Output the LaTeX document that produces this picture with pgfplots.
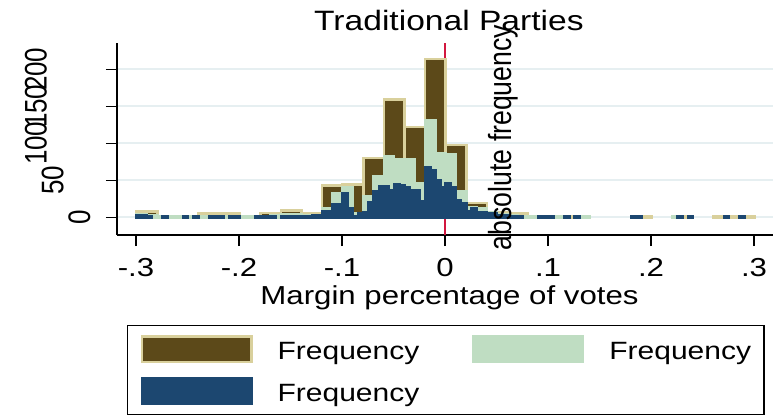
\documentclass[border=0pt]{standalone}
\usepackage{fontspec}
\setmainfont[FakeStretch=1.2]{Liberation Sans}
\newfontfamily\rotfont[FakeStretch=0.833]{Liberation Sans}
\usepackage{pgfplots}
\pgfplotsset{compat=1.18}

\definecolor{barbrown}{HTML}{5C4919}
\definecolor{barkhaki}{HTML}{D9D09C}
\definecolor{bargreen}{HTML}{BFDDC2}
\definecolor{barblue}{HTML}{1C4770}
\definecolor{cutred}{HTML}{D2173F}
\definecolor{gridc}{HTML}{E6EFF1}

\begin{document}
\begin{tikzpicture}
\useasboundingbox (-117bp,-182bp) rectangle (656bp,235bp);
\begin{axis}[
  at={(0,0)}, anchor=south west,
  scale only axis, width=656bp, height=192bp,
  xmin=-0.3184, xmax=0.3184, ymin=-23.9, ymax=235.5,
  axis lines*=left,
  axis line style={black, line width=1.3bp},
  tick style={black, line width=1.3bp},
  major tick length=11bp, tick align=outside,
  xtick={-0.3,-0.2,-0.1,0,0.1,0.2,0.3},
  xticklabels={-.3,-.2,-.1,0,.1,.2,.3},
  xticklabel style={font=\fontsize{26bp}{28bp}\selectfont, anchor=base, yshift=-30.7bp},
  ytick={0,50,100,150,200}, yticklabels={},
  ymajorgrids, grid style={gridc, line width=1.8bp},
  title={Traditional Parties},
  title style={at={(0.506,1)}, anchor=base, yshift=6.3bp, font=\fontsize{28bp}{30bp}\selectfont},
  xlabel={Margin percentage of votes},
  xlabel style={at={(0.5069,0)}, anchor=base, yshift=-69.5bp, font=\fontsize{26bp}{28bp}\selectfont},
  legend columns=2,
  legend style={at={(0,0)}, anchor=north west, xshift=10bp, yshift=-90bp,
    draw=black, line width=1.2bp, inner xsep=13bp, inner ysep=9.5bp, row sep=14bp,
    font=\fontsize{25bp}{27bp}\selectfont, nodes={inner sep=0pt, anchor=base west},
    /tikz/every odd column/.append style={column sep=25bp},
    /tikz/every even column/.append style={column sep=53bp}},
]
% cutoff at zero margin
\addplot[cutred, line width=2bp, forget plot] coordinates {(0,-23.9) (0,235.5)};

% bins of width 0.02
\addplot[ybar, bar width=0.02, bar shift=0pt, fill=barbrown, draw=barkhaki, line width=2.5bp,
  legend image code/.code={\draw[fill=barbrown, draw=barkhaki, line width=2.5bp] (1.25bp,-2.75bp) rectangle (110.75bp,22.75bp);}]
coordinates {
(-0.2893,8) (-0.2693,2) (-0.2493,1) (-0.2293,5) (-0.2093,5) (-0.1893,2)
(-0.1693,6) (-0.1493,9) (-0.1293,6) (-0.1093,43) (-0.0893,44) (-0.0693,80)
(-0.0493,159) (-0.0293,122) (-0.0093,214) (0.0107,98) (0.0307,19) (0.0507,7)
(0.0707,5) (0.0907,2) (0.1107,1) (0.1307,1) (0.1907,1) (0.2307,1) (0.2707,1) (0.2907,1)
};
\addlegendentry{Frequency}

% bins of width 0.01
\addplot[ybar, bar width=0.01, bar shift=0pt, fill=bargreen, draw=bargreen, line width=2.5bp,
  legend image code/.code={\draw[fill=bargreen, draw=bargreen, line width=2.5bp] (1.25bp,-2.75bp) rectangle (110.75bp,22.75bp);}]
coordinates {
(-0.2943,4) (-0.2843,3) (-0.2743,1) (-0.2643,1) (-0.2543,1) (-0.2443,1)
(-0.2343,2) (-0.2243,2) (-0.2143,2) (-0.2043,2) (-0.1943,1) (-0.1843,1)
(-0.1743,2) (-0.1643,3) (-0.1543,4) (-0.1443,4) (-0.1343,3) (-0.1243,3)
(-0.1143,12) (-0.1043,32) (-0.0943,41) (-0.0843,5) (-0.0743,28) (-0.0643,55)
(-0.0543,83) (-0.0443,78) (-0.0343,78) (-0.0243,46) (-0.0143,131) (-0.0043,86)
(0.0057,85) (0.0157,35) (0.0257,14) (0.0357,12) (0.0457,7) (0.0557,4)
(0.0657,3) (0.0757,2) (0.0857,1) (0.0957,1) (0.1057,1) (0.1157,1) (0.1357,1) (0.2257,1)
};
\addlegendentry{Frequency}

% bins of width 0.005
\addplot[ybar, bar width=0.005, bar shift=0pt, fill=barblue, draw=barblue, line width=2.5bp,
  legend image code/.code={\draw[fill=barblue, draw=barblue, line width=2.5bp] (1.25bp,-2.75bp) rectangle (110.75bp,22.75bp);}]
coordinates {
(-0.2968,3) (-0.2918,3) (-0.2868,2) (-0.2718,1) (-0.2518,1) (-0.2418,1)
(-0.2268,2) (-0.2218,1) (-0.2168,1) (-0.2068,1) (-0.2018,1) (-0.1818,1)
(-0.1768,1) (-0.1718,1) (-0.1668,1) (-0.1568,2) (-0.1518,2) (-0.1468,2)
(-0.1418,1) (-0.1368,1) (-0.1318,2) (-0.1268,3) (-0.1218,3) (-0.1168,8)
(-0.1118,8) (-0.1068,18) (-0.1018,17) (-0.0968,33) (-0.0918,12) (-0.0868,2)
(-0.0818,5) (-0.0768,7) (-0.0718,21) (-0.0668,35) (-0.0618,42) (-0.0568,42)
(-0.0518,37) (-0.0468,44) (-0.0418,43) (-0.0368,40) (-0.0318,37) (-0.0268,36)
(-0.0218,22) (-0.0168,68) (-0.0118,64) (-0.0068,50) (-0.0018,40) (0.0032,46)
(0.0082,40) (0.0132,23) (0.0182,19) (0.0232,8) (0.0282,12) (0.0332,7)
(0.0382,7) (0.0432,5) (0.0482,5) (0.0532,3) (0.0582,3) (0.0632,2)
(0.0682,1) (0.0732,1) (0.0932,1) (0.0982,1) (0.1032,1) (0.1182,1)
(0.1282,1) (0.1832,1) (0.1882,1) (0.2282,1) (0.2382,1) (0.2732,1) (0.2882,1)
};
\addlegendentry{Frequency}
\end{axis}

% y tick labels, turned upright
\begin{scope}[every node/.style={rotate=90, anchor=base, inner sep=0pt,
    font=\rotfont\fontsize{31.2bp}{33bp}\selectfont}]
\node at (-27bp,17.7bp) {0};
\node at (-53.7bp,54.7bp) {50};
\node at (-70.3bp,91.7bp) {100};
\node at (-70.3bp,128.7bp) {150};
\node at (-70.3bp,165.7bp) {200};
\node[font=\rotfont\fontsize{32bp}{34bp}\selectfont] at (394.3bp,97.5bp) {absolute frequency};
\end{scope}
\end{tikzpicture}
\end{document}
